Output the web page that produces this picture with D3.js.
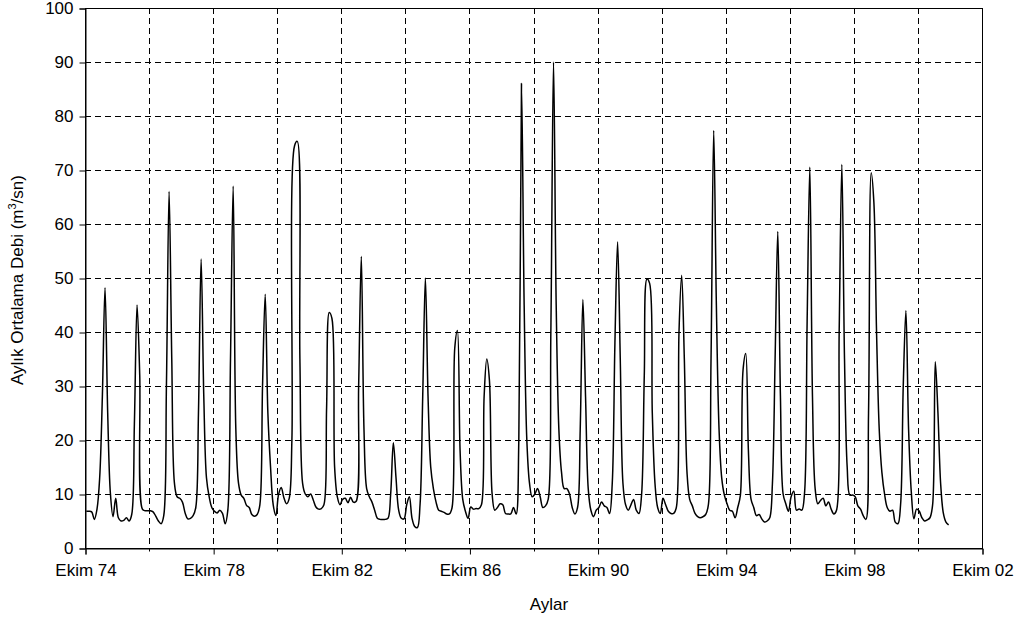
<!DOCTYPE html>
<html>
<head>
<meta charset="utf-8">
<script src="https://cdn.jsdelivr.net/npm/d3@7"></script>
<style>
  html, body { margin: 0; padding: 0; background: #fff; }
  svg { display: block; }
  text { font-family: "Liberation Sans", Arial, sans-serif; fill: #000; }
</style>
</head>
<body>
<svg id="chart" width="1026" height="623"></svg>
<script>
// Monthly mean discharge (m3/s), one array per water year (Oct .. Sep)
const wy1974 = [6.8, 6.8, 6.7, 5.3, 7.2, 13, 28, 48.2, 25, 10.2, 5.8, 9.2];
const wy1975 = [5.6, 5.0, 5.1, 5.6, 5.0, 6.2, 23, 45, 32, 7.2, 6.9, 6.9];
const wy1976 = [6.9, 6.7, 5.9, 5.0, 4.5, 6.0, 30, 66, 35, 12, 9.5, 9.2];
const wy1977 = [8.5, 6.5, 5.4, 5.5, 6.0, 7.5, 25, 53.5, 28, 13, 9.5, 7.5];
const wy1978 = [6.8, 6.5, 7.0, 6.4, 4.5, 7.0, 35, 67, 22, 12, 9.8, 9.2];
const wy1979 = [7.9, 7.5, 6.2, 5.9, 6.2, 8.0, 30, 47, 25, 15, 8.0, 6.0];
const wy1980 = [9.9, 11.2, 9.3, 8.2, 9.2, 20, 74.5, 75.3, 35, 12, 10, 9.5];
const wy1981 = [10, 8.9, 7.6, 7.2, 7.3, 8.0, 26, 43.6, 42.5, 15, 9.5, 8.0];
const wy1982 = [9.0, 9.2, 8.4, 9.4, 8.5, 8.6, 30, 54, 22, 11, 9.5, 8.5];
const wy1983 = [7.0, 5.5, 5.3, 5.3, 5.3, 5.5, 10, 19.5, 13, 7.0, 5.5, 5.4];
const wy1984 = [8.0, 9.5, 5.5, 4.0, 3.8, 8.0, 28, 50, 28, 15, 11, 8.5];
const wy1985 = [7.0, 6.8, 6.6, 6.3, 6.3, 7.5, 37, 40.3, 18, 9.0, 6.8, 5.5];
const wy1986 = [7.6, 7.2, 7.3, 7.3, 8.0, 28, 35, 31, 10, 7.0, 7.5, 8.2];
const wy1987 = [8.0, 6.4, 6.3, 6.3, 7.5, 6.3, 20, 86, 45, 20, 12, 9.5];
const wy1988 = [10, 11, 9.5, 7.5, 7.8, 9.0, 40, 90, 45, 22, 14, 11];
const wy1989 = [11, 10, 7.5, 6.3, 7.5, 22, 46, 28, 11, 7.0, 5.8, 7.0];
const wy1990 = [7.5, 8.5, 7.8, 7.5, 6.4, 12, 38, 56.7, 35, 12, 8.0, 7.0];
const wy1991 = [8.0, 9.0, 7.0, 6.4, 10, 32, 49.8, 49, 25, 12, 7.5, 6.4];
const wy1992 = [9.2, 8.0, 6.8, 6.4, 6.4, 7.5, 40, 50.5, 35, 14, 9.0, 7.8];
const wy1993 = [6.4, 5.8, 5.6, 5.8, 6.2, 8.0, 35, 77.3, 45, 22, 13, 9.8];
const wy1994 = [8.2, 7.0, 6.8, 5.6, 7.5, 9.8, 33, 36, 18, 9.0, 7.5, 6.0];
const wy1995 = [6.2, 5.4, 4.8, 5.0, 5.6, 12, 35, 58.6, 28, 10, 8.2, 6.8];
const wy1996 = [9.5, 10.5, 7.0, 7.2, 7.0, 10, 42, 70.5, 28, 11, 8.2, 8.8];
const wy1997 = [9.2, 7.8, 8.5, 7.2, 6.3, 7.0, 40, 71, 35, 15, 9.8, 9.8];
const wy1998 = [9.5, 7.8, 7.2, 6.0, 5.3, 25, 69.5, 64, 40, 22, 14, 10];
const wy1999 = [7.5, 6.8, 7.0, 4.8, 4.5, 8.0, 30, 44, 22, 10.5, 5.4, 7.2];
const wy2000 = [6.8, 5.6, 5.0, 5.2, 5.6, 8.0, 34.5, 25, 12, 6.5, 4.8, 4.3];

const waterYears = [wy1974, wy1975, wy1976, wy1977, wy1978, wy1979, wy1980,
  wy1981, wy1982, wy1983, wy1984, wy1985, wy1986, wy1987, wy1988, wy1989,
  wy1990, wy1991, wy1992, wy1993, wy1994, wy1995, wy1996, wy1997, wy1998,
  wy1999, wy2000];

// Category axis: 28 water years of 12 months, a tick every 24 months
const monthCount = 336;
const xTickLabels = ["Ekim 74", "Ekim 78", "Ekim 82", "Ekim 86",
                     "Ekim 90", "Ekim 94", "Ekim 98", "Ekim 02"];
const yTicks = [0, 10, 20, 30, 40, 50, 60, 70, 80, 90, 100];

const flows = waterYears.flat();

const margin = { left: 85, right: 44, top: 8, bottom: 75 };
const W = 1026, H = 623;
const svg = d3.select("#chart");

const x = d3.scaleLinear().domain([0, monthCount]).range([margin.left, W - margin.right]);
const y = d3.scaleLinear().domain([0, 100]).range([H - margin.bottom, margin.top]);

const x0 = x.range()[0], x1 = x.range()[1];
const y0 = y.range()[0], y1 = y.range()[1];

// Dashed grid
const grid = svg.append("g").attr("stroke", "#000").attr("stroke-width", 1)
  .attr("stroke-dasharray", "6,4").attr("fill", "none");
yTicks.filter(v => v > 0 && v < 100).forEach(v => {
  grid.append("line").attr("x1", x0).attr("x2", x1)
    .attr("y1", Math.round(y(v)) + 0.5).attr("y2", Math.round(y(v)) + 0.5);
});
d3.range(24, monthCount + 1, 24).forEach(m => {
  grid.append("line").attr("y1", y1).attr("y2", y0)
    .attr("x1", Math.round(x(m)) + 0.5).attr("x2", Math.round(x(m)) + 0.5);
});

// Plot frame
svg.append("rect").attr("x", x0 + 0.5).attr("y", y1 + 0.5)
  .attr("width", x1 - x0).attr("height", y0 - y1)
  .attr("fill", "none").attr("stroke", "#000").attr("stroke-width", 1);

// Y axis
const yAxis = d3.axisLeft(y).tickValues(yTicks).tickSize(6).tickPadding(6)
  .tickFormat(d3.format("d"));
svg.append("g").attr("transform", `translate(${x0 + 0.5},0.5)`).call(yAxis)
  .call(g => {
    g.select(".domain").attr("stroke", "#000");
    g.selectAll("text").style("font-size", "17px")
      .style("font-family", '"Liberation Sans", Arial, sans-serif');
  });

// X axis: long ticks every 48 months with labels, short ticks in between
const xAxis = d3.axisBottom(x).tickValues(d3.range(0, monthCount + 1, 48))
  .tickSize(6).tickPadding(9).tickFormat((d, i) => xTickLabels[i]);
svg.append("g").attr("transform", `translate(0.5,${y0 + 0.5})`).call(xAxis)
  .call(g => {
    g.select(".domain").attr("stroke", "#000");
    g.selectAll("text").style("font-size", "17px")
      .style("font-family", '"Liberation Sans", Arial, sans-serif');
  });
svg.append("g").attr("stroke", "#000")
  .selectAll("line").data(d3.range(24, monthCount, 48)).join("line")
  .attr("x1", d => Math.round(x(d)) + 0.5).attr("x2", d => Math.round(x(d)) + 0.5)
  .attr("y1", y0 + 0.5).attr("y2", y0 + 3.5);

// Discharge series, one point per month at the centre of its category,
// drawn as a smoothed line
const line = d3.line().x((d, i) => x(i + 0.5)).y(d => y(d))
  .curve(d3.curveCatmullRom.alpha(0.5));
svg.append("path").datum(flows).attr("d", line)
  .attr("fill", "none").attr("stroke", "#000").attr("stroke-width", 1.5)
  .attr("stroke-linejoin", "round");

// Axis titles
svg.append("text").attr("x", 549).attr("y", 610)
  .attr("text-anchor", "middle").style("font-size", "17px").text("Aylar");

const yTitle = svg.append("text")
  .attr("transform", `translate(23,${(y0 + y1) / 2 + 2}) rotate(-90)`)
  .attr("text-anchor", "middle").style("font-size", "17px");
yTitle.append("tspan").text("Aylık Ortalama Debi (m");
yTitle.append("tspan").attr("dy", -7).style("font-size", "11px").text("3");
yTitle.append("tspan").attr("dy", 7).text("/sn)");
</script>
</body>
</html>
